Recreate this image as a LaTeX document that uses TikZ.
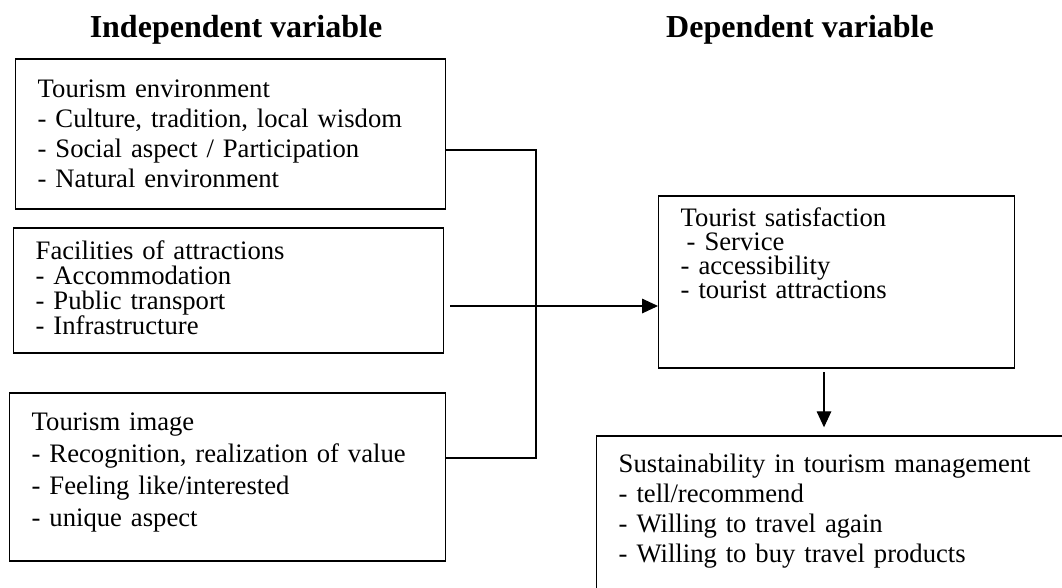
\documentclass[tikz,border=0pt]{standalone}
\usepackage{fontspec}
\setmainfont{Liberation Serif}
\usetikzlibrary{arrows.meta}

\tikzset{
  varbox/.style={draw, line width=1.1pt, anchor=base west, align=left, inner xsep=16.5pt, inner ysep=0pt},
  heading/.style={anchor=base, font=\fontsize{24}{28}\selectfont\bfseries},
  link/.style={line width=0.8pt},
  flow/.style={link, -{Triangle[length=12pt,width=11pt]}}
}

\begin{document}
\begin{tikzpicture}[x=0.75pt,y=-0.75pt]
\clip (0,0) rectangle (1062,587);
\useasboundingbox (0,0) rectangle (1062,587);

\node[heading] (indep) at (236,37) {Independent variable};
\node[heading] (dep) at (800,37) {Dependent variable};

\node[varbox, text width=289.5pt, text height=28.5pt, text depth=84pt, font=\fontsize{20}{22.5}\selectfont] (env) at (15,97)
  {Tourism environment\\- Culture, tradition, local wisdom\\- Social aspect / Participation\\- Natural environment};
\node[varbox, text width=289.5pt, text height=23.25pt, text depth=70.5pt, font=\fontsize{20}{18.75}\selectfont] (fac) at (13,259)
  {Facilities of attractions\\- Accommodation\\- Public transport\\- Infrastructure};
\node[varbox, text width=294pt, text height=27.75pt, text depth=98.25pt, font=\fontsize{20}{24}\selectfont] (img) at (9,430)
  {Tourism image\\- Recognition, realization of value\\- Feeling like/interested\\- unique aspect};
\node[varbox, text width=234pt, text height=22.5pt, text depth=106.5pt, font=\fontsize{20}{18}\selectfont] (sat) at (658,226)
  {Tourist satisfaction\\\hspace*{4.5pt}- Service\\- accessibility\\- tourist attractions};
\node[varbox, text width=417pt, text height=27pt, text depth=150pt, font=\fontsize{20}{22.5}\selectfont] (sus) at (596,472)
  {Sustainability in tourism management\\- tell/recommend\\- Willing to travel again\\- Willing to buy travel products};

\coordinate (upper) at (536,150);
\coordinate (lower) at (536,458);
\coordinate (mid) at (450,306);
\coordinate (drop) at (824,372);

\draw[link] (upper -| env.east) -- (upper) -- (lower) -- (lower -| img.east);
\draw[flow] (mid) -- (mid -| sat.west);
\draw[flow, shorten >=6pt] (drop) -- (drop |- sus.north);

\end{tikzpicture}
\end{document}
